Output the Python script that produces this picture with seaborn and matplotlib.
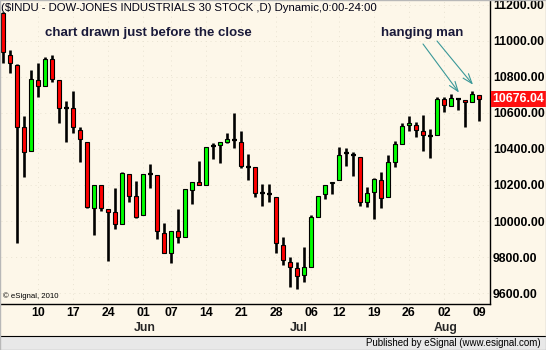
import matplotlib
matplotlib.use("Agg")
import matplotlib.pyplot as plt
from matplotlib.patches import Rectangle
import seaborn as sns
import pandas as pd
import numpy as np

# ---------------- data ----------------
dates = [
    "2010-05-04", "2010-05-05", "2010-05-06", "2010-05-07",
    "2010-05-10", "2010-05-11", "2010-05-12", "2010-05-13", "2010-05-14",
    "2010-05-17", "2010-05-18", "2010-05-19", "2010-05-20", "2010-05-21",
    "2010-05-24", "2010-05-25", "2010-05-26", "2010-05-27", "2010-05-28",
    "2010-06-01", "2010-06-02", "2010-06-03", "2010-06-04",
    "2010-06-07", "2010-06-08", "2010-06-09", "2010-06-10", "2010-06-11",
    "2010-06-14", "2010-06-15", "2010-06-16", "2010-06-17", "2010-06-18",
    "2010-06-21", "2010-06-22", "2010-06-23", "2010-06-24", "2010-06-25",
    "2010-06-28", "2010-06-29", "2010-06-30", "2010-07-01", "2010-07-02",
    "2010-07-06", "2010-07-07", "2010-07-08", "2010-07-09",
    "2010-07-12", "2010-07-13", "2010-07-14", "2010-07-15", "2010-07-16",
    "2010-07-19", "2010-07-20", "2010-07-21", "2010-07-22", "2010-07-23",
    "2010-07-26", "2010-07-27", "2010-07-28", "2010-07-29", "2010-07-30",
    "2010-08-02", "2010-08-03", "2010-08-04", "2010-08-05", "2010-08-06",
    "2010-08-09", "2010-08-10",
]
opens = [11156, 10922, 10867, 10522, 10389, 10783, 10750, 10900, 10783,
         10628, 10628, 10506, 10439, 10072, 10200, 10067, 10050, 9983, 10261,
         10139, 10033, 10261, 10256, 9933, 9822, 9944, 9911, 10172,
         10217, 10200, 10417, 10422, 10439, 10450, 10439, 10300, 10300, 10153,
         10150, 10133, 9867, 9772, 9739, 9700, 9744, 10022, 10150,
         10211, 10228, 10378, 10367, 10356, 10106, 10161, 10228, 10133, 10328,
         10428, 10533, 10533, 10500, 10472, 10478, 10678, 10639, 10678, 10672,
         10661, 10700]
highs = [11160, 10950, 10870, 10583, 10839, 10878, 10911, 10922, 10783,
         10667, 10722, 10522, 10439, 10200, 10200, 10067, 10183, 10272, 10261,
         10222, 10261, 10317, 10256, 9989, 9944, 10067, 10178, 10217,
         10333, 10411, 10433, 10439, 10489, 10600, 10500, 10372, 10300, 10206,
         10206, 10133, 9911, 9800, 9772, 9856, 10033, 10139, 10200,
         10217, 10411, 10406, 10383, 10356, 10189, 10239, 10272, 10367, 10444,
         10544, 10583, 10550, 10589, 10511, 10689, 10689, 10706, 10678, 10672,
         10722, 10700]
lows = [10878, 10822, 9878, 10244, 10389, 10689, 10750, 10772, 10544,
        10439, 10489, 10328, 10072, 9922, 10056, 9778, 9956, 9983, 10106,
        10017, 10033, 10183, 9900, 9822, 9767, 9878, 9911, 10094,
        10200, 10200, 10344, 10322, 10433, 10406, 10294, 10228, 10133, 10083,
        10106, 9822, 9756, 9633, 9622, 9661, 9744, 10022, 10122,
        10150, 10228, 10306, 10250, 10083, 10078, 10011, 10072, 10133, 10300,
        10428, 10500, 10467, 10389, 10350, 10478, 10606, 10639, 10617, 10522,
        10661, 10556]
closes = [10939, 10878, 10522, 10383, 10789, 10750, 10900, 10789, 10628,
          10628, 10522, 10456, 10078, 10200, 10072, 10050, 9983, 10267, 10139,
          10022, 10261, 10261, 9944, 9822, 9944, 9911, 10178, 10217,
          10200, 10411, 10417, 10439, 10456, 10450, 10306, 10300, 10156, 10153,
          10150, 9878, 9783, 9744, 9694, 9744, 10022, 10139, 10200,
          10217, 10367, 10378, 10367, 10106, 10156, 10233, 10128, 10328, 10428,
          10528, 10544, 10506, 10478, 10472, 10678, 10644, 10683, 10678, 10661,
          10706, 10676.04]
last_price = 10676.04
price_ticks = [9600, 9800, 10000, 10200, 10400, 10600, 10800, 11000, 11200]
title_text = "($INDU - DOW-JONES INDUSTRIALS 30 STOCK ,D) Dynamic,0:00-24:00"
note_text = "chart drawn just before the close"
pattern_text = "hanging man"
pattern_dates = ["2010-08-05", "2010-08-09"]

# ---------------- style ----------------
sns.set_style("white")
plt.rcParams["font.family"] = ["Liberation Sans", "DejaVu Sans"]

BG = "#fdf7e9"
RED = "#ff0000"
GREEN = "#00ff00"
W, H = 546, 350

df = pd.DataFrame({"date": pd.to_datetime(dates), "open": opens, "high": highs,
                   "low": lows, "close": closes})
df["idx"] = np.arange(len(df))

fig = plt.figure(figsize=(W / 100, H / 100), dpi=100)
fig.patch.set_facecolor(BG)

ax_left, ax_right, ax_bottom, ax_top = 1, 490, 304, 1
ax = fig.add_axes([ax_left / W, 1 - ax_bottom / H,
                   (ax_right - ax_left) / W, (ax_bottom - ax_top) / H])
ax.set_facecolor(BG)

# wicks
ax.vlines(df["idx"], df["low"], df["high"], color="black", linewidth=1.9, zorder=2)

# bodies
up = df[df["close"] > df["open"]]
dn = df[df["close"] < df["open"]]
eq = df[df["close"] == df["open"]]
bw = 0.62
ax.bar(up["idx"], up["close"] - up["open"], bottom=up["open"], width=bw,
       color=GREEN, edgecolor="black", linewidth=0.8, zorder=3)
ax.bar(dn["idx"], dn["open"] - dn["close"], bottom=dn["close"], width=bw,
       color=RED, edgecolor="black", linewidth=0.8, zorder=3)
ax.hlines(eq["open"], eq["idx"] - 0.36, eq["idx"] + 0.36, color="black",
          linewidth=1.6, zorder=3)

# axes limits (7 px per bar)
ax.set_xlim(-0.33, -0.33 + (ax_right - ax_left) / 7.0)
ax.set_ylim(9539, 11222)

# week ticks (first trading day of each week), labels sit just right of bar
week = df["date"].dt.isocalendar().week.values
wk_idx = [i for i in range(1, len(df)) if week[i] != week[i - 1]]
tick_off = 0.95
ax.set_xticks([i + tick_off for i in wk_idx],
              labels=[df["date"][i].strftime("%d") for i in wk_idx],
              fontweight="bold", fontsize=8.8)
ax.tick_params(axis="x", length=0, pad=2.5, colors="black")

# month labels
mon = df["date"].dt.month.values
for i in range(1, len(df)):
    if mon[i] != mon[i - 1]:
        ax.annotate(df["date"][i].strftime("%b"), xy=(i + tick_off + 0.3, 0),
                    xycoords=("data", "axes fraction"), xytext=(0, -17),
                    textcoords="offset points", ha="center", va="center",
                    fontweight="bold", fontsize=8.8)

ax.yaxis.tick_right()
ax.set_yticks(price_ticks, labels=[f"{v:.2f}" for v in price_ticks],
              fontweight="bold", fontsize=8.8)
ax.tick_params(axis="y", length=0, pad=2.0, colors="black")

ax.grid(True, color="#e9e3d2", linestyle=(0, (1, 4)), linewidth=0.7)
ax.set_axisbelow(True)

for s in ["left", "top"]:
    ax.spines[s].set_visible(False)
for s in ["right", "bottom"]:
    ax.spines[s].set_color("black")
    ax.spines[s].set_linewidth(1.0)

# last-price tag
ax.text(1.005, last_price, f"{last_price:.2f}", transform=ax.get_yaxis_transform(),
        ha="left", va="center", color="white", fontweight="bold", fontsize=8.8,
        bbox=dict(boxstyle="square,pad=0.15", fc="#ff1010", ec="none"), zorder=5,
        clip_on=False)

# texts
fig.text(1 / W, 1 - 8 / H, title_text, fontsize=8.2, color="#000014",
         ha="left", va="center")
fig.text(45 / W, 1 - 33 / H, note_text, fontsize=9.5, fontweight="bold",
         color="#1a1a3a", ha="left", va="center")
fig.text(381 / W, 1 - 33 / H, pattern_text, fontsize=9.5, fontweight="bold",
         color="#1a1a3a", ha="left", va="center")
fig.text(3 / W, 1 - 296 / H, "\u00a9 eSignal, 2010", fontsize=5.6,
         color="black", ha="left", va="center")

# arrows to the hanging-man candles
starts = [(423, H - 44), (437, H - 41)]
for d, st in zip(pattern_dates, starts):
    i = int(df.index[df["date"] == pd.Timestamp(d)][0])
    ax.annotate("", xy=(i + 0.1, df["high"][i] + 35), xycoords="data",
                xytext=st, textcoords="figure pixels",
                arrowprops=dict(arrowstyle="->,head_length=0.7,head_width=0.25",
                                color="#3a9898", lw=0.8, shrinkA=0, shrinkB=0))

# bottom band
fig.patches.append(Rectangle((0, 0), 1, 14 / H, transform=fig.transFigure,
                             facecolor="#e8e8e8", edgecolor="none", zorder=0))
fig.add_artist(plt.Line2D([0, 1], [14 / H, 14 / H], transform=fig.transFigure,
                          color="black", linewidth=0.8))
fig.text(541 / W, 7 / H, "Published by eSignal (www.esignal.com)", fontsize=7,
         color="black", ha="right", va="center")
fig.patches.append(Rectangle((0, 0), 1, 1, transform=fig.transFigure,
                             facecolor="none", edgecolor="#b8b8b8", linewidth=1,
                             zorder=10))

fig.savefig("out.png", dpi=100, facecolor=fig.get_facecolor())
